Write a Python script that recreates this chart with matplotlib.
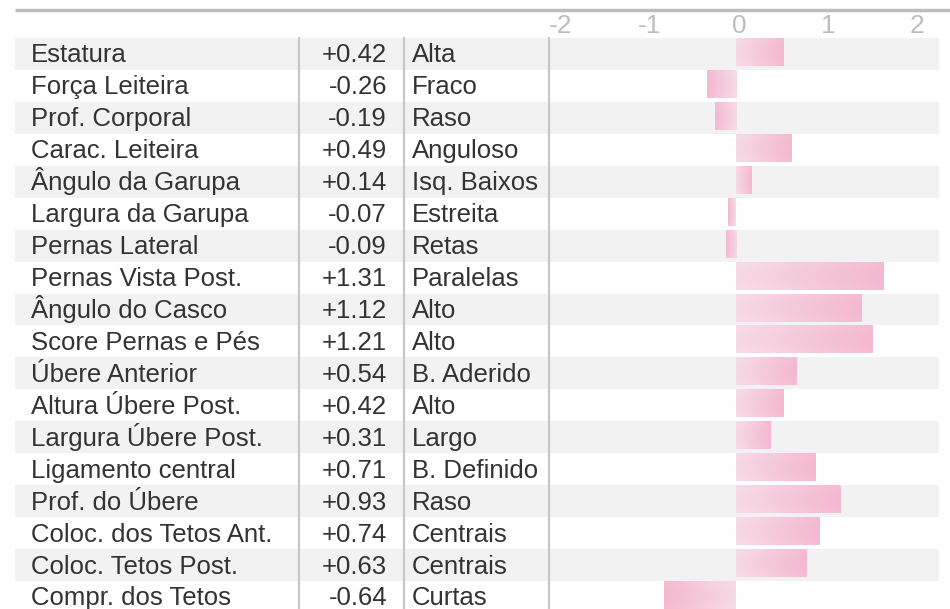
import numpy as np
import matplotlib.pyplot as plt
from matplotlib.colors import LinearSegmentedColormap
import matplotlib.transforms as mtransforms

traits = ["Estatura", "Força Leiteira", "Prof. Corporal", "Carac. Leiteira",
          "Ângulo da Garupa", "Largura da Garupa", "Pernas Lateral",
          "Pernas Vista Post.", "Ângulo do Casco", "Score Pernas e Pés",
          "Úbere Anterior", "Altura Úbere Post.", "Largura Úbere Post.",
          "Ligamento central", "Prof. do Úbere", "Coloc. dos Tetos Ant.",
          "Coloc. Tetos Post.", "Compr. dos Tetos"]
values = [0.42, -0.26, -0.19, 0.49, 0.14, -0.07, -0.09, 1.31, 1.12, 1.21,
          0.54, 0.42, 0.31, 0.71, 0.93, 0.74, 0.63, -0.64]
descr = ["Alta", "Fraco", "Raso", "Anguloso", "Isq. Baixos", "Estreita",
         "Retas", "Paralelas", "Alto", "Alto", "B. Aderido", "Alto", "Largo",
         "B. Definido", "Raso", "Centrais", "Centrais", "Curtas"]
tick_vals = [-2, -1, 0, 1, 2]

W, H = 950, 609
pitch = 31.94
top0 = 38
ylim = (-0.5 + (H - top0) / pitch, -0.5 - top0 / pitch)

plt.rcParams['font.family'] = ['Liberation Sans', 'DejaVu Sans']
fig = plt.figure(figsize=(W / 100, H / 100), dpi=100)

# background / table axes in pixel x, row-unit y
bg = fig.add_axes([0, 0, 1, 1])
bg.set_xlim(0, W)
bg.set_ylim(*ylim)
bg.axis('off')

n = len(traits)
base = 8.5 / pitch
for i in range(n):
    if i % 2 == 0:
        bg.fill_between([15, 939], i - 0.5, i + 0.5, color='#f2f2f2', lw=0, zorder=0)
    bg.text(31, i + base, traits[i], fontsize=18.5, color='#333333', va='baseline', ha='left')
    bg.text(387, i + base, f"{values[i]:+.2f}", fontsize=18.5, color='#333333', va='baseline', ha='right')
    bg.text(412, i + base, descr[i], fontsize=18.5, color='#333333', va='baseline', ha='left')

for x in [299, 404, 549]:
    bg.plot([x, x], [-0.5, ylim[0]], color='#c8c8c8', lw=1.6, zorder=2)
top_y = -0.5 - (top0 - 10) / pitch
bg.plot([15, W], [top_y, top_y], color='#bdbdbd', lw=2.5, solid_capstyle='butt')

# bar axes
x0, x1 = 549, 939
ax = fig.add_axes([x0 / W, 0, (x1 - x0) / W, 1])
ax.set_xlim((x0 - 736) / 112.5, (x1 - 736) / 112.5)
ax.set_ylim(*ylim)
ax.axis('off')

cmap = LinearSegmentedColormap.from_list('pk', ['#f7dbe8', '#f4b7d0'])
gx = np.linspace(0, 1, 60)
gy = np.linspace(-1, 1, 9)
grad = gx[None, :] + 0.12 * (1 - np.abs(gy[:, None]))
for i, v in enumerate(values):
    yb0, yb1 = i - 0.5, i - 0.5 + 28 / pitch
    g = grad if v >= 0 else grad[:, ::-1]
    left, right = (0, v) if v >= 0 else (v, 0)
    ax.imshow(g, cmap=cmap, vmin=0, vmax=1.12, aspect='auto',
              extent=[left, right, yb1, yb0], interpolation='bilinear', zorder=3)

# tick scale on top
tk = fig.add_axes([x0 / W, 0, (x1 - x0) / W, 1])
tk.set_xlim((x0 - 739) / 89.0, (x1 - 739) / 89.0)
tk.axis('off')
trans = mtransforms.blended_transform_factory(tk.transData, fig.transFigure)
for t in tick_vals:
    tk.text(t, 1 - 33 / H, f"{t}", transform=trans, ha='center', va='baseline',
            fontsize=19, color='#bdbdbd',
            family=['Liberation Sans Narrow', 'Liberation Sans'])

fig.savefig('out.png', dpi=100)
